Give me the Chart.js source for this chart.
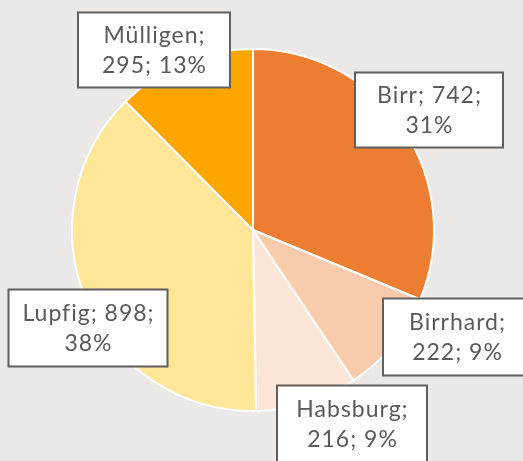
<!DOCTYPE html>
<html>
<head>
<meta charset="utf-8">
<script src="https://cdn.jsdelivr.net/npm/chart.js@4/dist/chart.umd.min.js"></script>
<style>
  html, body { margin: 0; padding: 0; background: #ebe9e7; }
  #wrap { width: 523px; height: 461px; position: relative; }
</style>
</head>
<body>
<div id="wrap"><canvas id="chartPie" width="523" height="461"></canvas></div>
<script>
// Daten
const gemeinden = ['Birr', 'Birrhard', 'Habsburg', 'Lupfig', 'Mülligen'];
const werte = [742, 222, 216, 898, 295];
const prozente = ['31%', '9%', '9%', '38%', '13%'];
const farben = ['#ed7d31', '#f8cbad', '#fbe5d6', '#ffe699', '#ffa500'];

// Beschriftungen: Zeilen pro Box
const zeilen = [
    ['Birr; 742;', '31%'],
    ['Birrhard;', '222; 9%'],
    ['Habsburg;', '216; 9%'],
    ['Lupfig; 898;', '38%'],
    ['Mülligen;', '295; 13%']
];

// Lage der Boxen (Mitte x, Mitte y, Breite, Höhe) in Pixeln
const boxLayout = [
    [429, 110, 148, 75],
    [457, 337, 148, 77],
    [352, 424, 150, 77],
    [88, 328, 159, 77],
    [154, 50, 152, 75]
];

const labelBoxPlugin = {
    id: 'labelBoxes',
    afterDatasetsDraw(chart) {
        const ctx = chart.ctx;
        ctx.save();
        ctx.font = '23px Lato, sans-serif';
        ctx.letterSpacing = '1px';
        ctx.textAlign = 'center';
        ctx.textBaseline = 'middle';
        boxLayout.forEach((b, i) => {
            const [cx, cy, w, h] = b;
            ctx.fillStyle = '#ffffff';
            ctx.fillRect(cx - w / 2, cy - h / 2, w, h);
            ctx.strokeStyle = '#5f5f5f';
            ctx.lineWidth = 2;
            ctx.strokeRect(cx - w / 2, cy - h / 2, w, h);
            ctx.fillStyle = '#5a5a5a';
            const lines = zeilen[i];
            const lh = 30;
            lines.forEach((t, k) => {
                ctx.fillText(t, cx + 0.5, cy + 1 + (k - (lines.length - 1) / 2) * lh);
            });
        });
        ctx.restore();
    }
};

new Chart(document.getElementById('chartPie').getContext('2d'), {
    type: 'pie',
    data: {
        labels: gemeinden,
        datasets: [{
            data: werte,
            backgroundColor: farben,
            borderColor: '#ffffff',
            borderWidth: 2
        }]
    },
    options: {
        responsive: false,
        animation: false,
        layout: {
            padding: { left: 71, right: 88, top: 48, bottom: 49 }
        },
        plugins: {
            legend: { display: false },
            tooltip: { enabled: false }
        }
    },
    plugins: [labelBoxPlugin]
});
</script>
</body>
</html>
